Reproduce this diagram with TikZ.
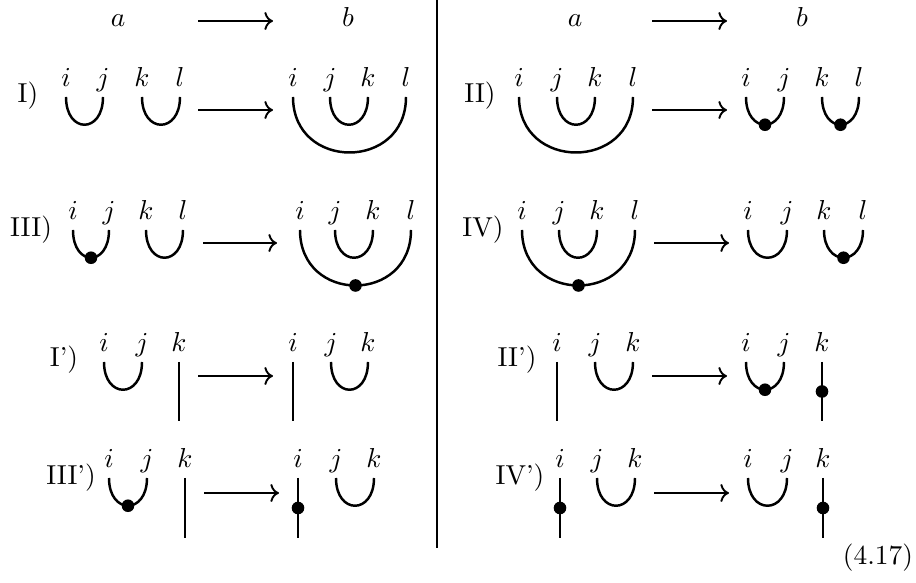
\documentclass[tikz,border=0pt]{standalone}
\usepackage{amsmath}
\usetikzlibrary{arrows.meta}

\begin{document}
\begin{tikzpicture}[x=0.365pt, y=-0.365pt,
    wire/.style={line width=0.9pt},
    cup/.style={to path={.. controls +(0,#1) and +(0,#1) .. (\tikztotarget) \tikztonodes}},
    cup/.default=37,
    dot/.style={circle, fill, inner sep=0pt, minimum size=4.6pt},
    lbl/.style={anchor=base, yshift=4pt, inner sep=0pt},
    tag/.style={anchor=base, inner sep=0pt},
    map/.style={->, line width=0.7pt}]
    \useasboundingbox (0,0) rectangle (916,583);

    % header
    \node[tag] (ha1) at (118,27) {$a$};
    \node[tag] (hb1) at (348,27) {$b$};
    \node[tag] (ha2) at (575,27) {$a$};
    \node[tag] (hb2) at (802,27) {$b$};
    \coordinate (hs1) at (198,21); \coordinate (he1) at (273,21);
    \coordinate (hs2) at (652,21); \coordinate (he2) at (727,21);
    \draw[map] (hs1) -- (he1);
    \draw[map] (hs2) -- (he2);

    % separator
    \coordinate (sep-top) at (437,0); \coordinate (sep-bot) at (437,548);
    \draw[line width=1pt] (sep-top) -- (sep-bot);

    % I)
    \node[tag] (tI) at (28,103) {I)};
    \coordinate (Ia-i) at (66,97);  \node[lbl] (Ia-i-t) at (Ia-i) {$i$};
    \coordinate (Ia-j) at (103,97); \node[lbl] (Ia-j-t) at (Ia-j) {$j$};
    \coordinate (Ia-k) at (142,97); \node[lbl] (Ia-k-t) at (Ia-k) {$k$};
    \coordinate (Ia-l) at (180,97); \node[lbl] (Ia-l-t) at (Ia-l) {$l$};
    \coordinate (Ib-i) at (293,97); \node[lbl] (Ib-i-t) at (Ib-i) {$i$};
    \coordinate (Ib-j) at (330,97); \node[lbl] (Ib-j-t) at (Ib-j) {$j$};
    \coordinate (Ib-k) at (368,97); \node[lbl] (Ib-k-t) at (Ib-k) {$k$};
    \coordinate (Ib-l) at (406,97); \node[lbl] (Ib-l-t) at (Ib-l) {$l$};
    \draw[wire] (Ia-i) to[cup] (Ia-j);
    \draw[wire] (Ia-k) to[cup] (Ia-l);
    \draw[wire] (Ib-j) to[cup] (Ib-k);
    \draw[wire] (Ib-i) to[cup=74] (Ib-l);
    \coordinate (I-s) at (198,110); \coordinate (I-e) at (273,110);
    \draw[map] (I-s) -- (I-e);

    % II)
    \node[tag] (tII) at (480,103) {II)};
    \coordinate (IIa-i) at (519,97); \node[lbl] (IIa-i-t) at (IIa-i) {$i$};
    \coordinate (IIa-j) at (557,97); \node[lbl] (IIa-j-t) at (IIa-j) {$j$};
    \coordinate (IIa-k) at (595,97); \node[lbl] (IIa-k-t) at (IIa-k) {$k$};
    \coordinate (IIa-l) at (633,97); \node[lbl] (IIa-l-t) at (IIa-l) {$l$};
    \coordinate (IIb-i) at (746,97); \node[lbl] (IIb-i-t) at (IIb-i) {$i$};
    \coordinate (IIb-j) at (784,97); \node[lbl] (IIb-j-t) at (IIb-j) {$j$};
    \coordinate (IIb-k) at (822,97); \node[lbl] (IIb-k-t) at (IIb-k) {$k$};
    \coordinate (IIb-l) at (859,97); \node[lbl] (IIb-l-t) at (IIb-l) {$l$};
    \draw[wire] (IIa-i) to[cup=74] (IIa-l);
    \draw[wire] (IIa-j) to[cup] (IIa-k);
    \draw[wire] (IIb-i) to[cup] node[dot] (IIb-d1) {} (IIb-j);
    \draw[wire] (IIb-k) to[cup] node[dot] (IIb-d2) {} (IIb-l);
    \coordinate (II-s) at (652,110); \coordinate (II-e) at (727,110);
    \draw[map] (II-s) -- (II-e);

    % III)
    \node[tag] (tIII) at (31,237) {III)};
    \coordinate (IIIa-i) at (73,230);  \node[lbl] (IIIa-i-t) at (IIIa-i) {$i$};
    \coordinate (IIIa-j) at (109,230); \node[lbl] (IIIa-j-t) at (IIIa-j) {$j$};
    \coordinate (IIIa-k) at (146,230); \node[lbl] (IIIa-k-t) at (IIIa-k) {$k$};
    \coordinate (IIIa-l) at (183,230); \node[lbl] (IIIa-l-t) at (IIIa-l) {$l$};
    \coordinate (IIIb-i) at (300,230); \node[lbl] (IIIb-i-t) at (IIIb-i) {$i$};
    \coordinate (IIIb-j) at (335,230); \node[lbl] (IIIb-j-t) at (IIIb-j) {$j$};
    \coordinate (IIIb-k) at (373,230); \node[lbl] (IIIb-k-t) at (IIIb-k) {$k$};
    \coordinate (IIIb-l) at (411,230); \node[lbl] (IIIb-l-t) at (IIIb-l) {$l$};
    \draw[wire] (IIIa-i) to[cup] node[dot] (IIIa-d) {} (IIIa-j);
    \draw[wire] (IIIa-k) to[cup] (IIIa-l);
    \draw[wire] (IIIb-i) to[cup=74] node[dot] (IIIb-d) {} (IIIb-l);
    \draw[wire] (IIIb-j) to[cup] (IIIb-k);
    \coordinate (III-s) at (203,243); \coordinate (III-e) at (277,243);
    \draw[map] (III-s) -- (III-e);

    % IV)
    \node[tag] (tIV) at (483,237) {IV)};
    \coordinate (IVa-i) at (522,230); \node[lbl] (IVa-i-t) at (IVa-i) {$i$};
    \coordinate (IVa-j) at (559,230); \node[lbl] (IVa-j-t) at (IVa-j) {$j$};
    \coordinate (IVa-k) at (597,230); \node[lbl] (IVa-k-t) at (IVa-k) {$k$};
    \coordinate (IVa-l) at (635,230); \node[lbl] (IVa-l-t) at (IVa-l) {$l$};
    \coordinate (IVb-i) at (748,230); \node[lbl] (IVb-i-t) at (IVb-i) {$i$};
    \coordinate (IVb-j) at (787,230); \node[lbl] (IVb-j-t) at (IVb-j) {$j$};
    \coordinate (IVb-k) at (824,230); \node[lbl] (IVb-k-t) at (IVb-k) {$k$};
    \coordinate (IVb-l) at (863,230); \node[lbl] (IVb-l-t) at (IVb-l) {$l$};
    \draw[wire] (IVa-i) to[cup=74] node[dot] (IVa-d) {} (IVa-l);
    \draw[wire] (IVa-j) to[cup] (IVa-k);
    \draw[wire] (IVb-i) to[cup] (IVb-j);
    \draw[wire] (IVb-k) to[cup] node[dot] (IVb-d) {} (IVb-l);
    \coordinate (IV-s) at (654,243); \coordinate (IV-e) at (729,243);
    \draw[map] (IV-s) -- (IV-e);

    % I')
    \node[tag] (tIp) at (64,367) {I')};
    \coordinate (Ipa-i) at (104,362); \node[lbl] (Ipa-i-t) at (Ipa-i) {$i$};
    \coordinate (Ipa-j) at (142,362); \node[lbl] (Ipa-j-t) at (Ipa-j) {$j$};
    \coordinate (Ipa-k) at (179,362); \node[lbl] (Ipa-k-t) at (Ipa-k) {$k$};
    \coordinate (Ipa-kb) at (179,421);
    \coordinate (Ipb-i) at (293,362); \node[lbl] (Ipb-i-t) at (Ipb-i) {$i$};
    \coordinate (Ipb-ib) at (293,421);
    \coordinate (Ipb-j) at (331,362); \node[lbl] (Ipb-j-t) at (Ipb-j) {$j$};
    \coordinate (Ipb-k) at (368,362); \node[lbl] (Ipb-k-t) at (Ipb-k) {$k$};
    \draw[wire] (Ipa-i) to[cup] (Ipa-j);
    \draw[wire] (Ipa-k) -- (Ipa-kb);
    \draw[wire] (Ipb-i) -- (Ipb-ib);
    \draw[wire] (Ipb-j) to[cup] (Ipb-k);
    \coordinate (Ip-s) at (198,376); \coordinate (Ip-e) at (273,376);
    \draw[map] (Ip-s) -- (Ip-e);

    % II')
    \node[tag] (tIIp) at (517,367) {II')};
    \coordinate (IIpa-i) at (557,362); \node[lbl] (IIpa-i-t) at (IIpa-i) {$i$};
    \coordinate (IIpa-ib) at (557,421);
    \coordinate (IIpa-j) at (595,362); \node[lbl] (IIpa-j-t) at (IIpa-j) {$j$};
    \coordinate (IIpa-k) at (633,362); \node[lbl] (IIpa-k-t) at (IIpa-k) {$k$};
    \coordinate (IIpb-i) at (746,362); \node[lbl] (IIpb-i-t) at (IIpb-i) {$i$};
    \coordinate (IIpb-j) at (784,362); \node[lbl] (IIpb-j-t) at (IIpb-j) {$j$};
    \coordinate (IIpb-k) at (822,362); \node[lbl] (IIpb-k-t) at (IIpb-k) {$k$};
    \coordinate (IIpb-kb) at (822,421);
    \draw[wire] (IIpa-i) -- (IIpa-ib);
    \draw[wire] (IIpa-j) to[cup] (IIpa-k);
    \draw[wire] (IIpb-i) to[cup] node[dot] (IIpb-d1) {} (IIpb-j);
    \draw[wire] (IIpb-k) -- node[dot] (IIpb-d2) {} (IIpb-kb);
    \coordinate (IIp-s) at (652,376); \coordinate (IIp-e) at (727,376);
    \draw[map] (IIp-s) -- (IIp-e);

    % III')
    \node[tag] (tIIIp) at (71,485) {III')};
    \coordinate (IIIpa-i) at (109,478); \node[lbl] (IIIpa-i-t) at (IIIpa-i) {$i$};
    \coordinate (IIIpa-j) at (147,478); \node[lbl] (IIIpa-j-t) at (IIIpa-j) {$j$};
    \coordinate (IIIpa-k) at (185,478); \node[lbl] (IIIpa-k-t) at (IIIpa-k) {$k$};
    \coordinate (IIIpa-kb) at (185,538);
    \coordinate (IIIpb-i) at (298,478); \node[lbl] (IIIpb-i-t) at (IIIpb-i) {$i$};
    \coordinate (IIIpb-ib) at (298,538);
    \coordinate (IIIpb-j) at (336,478); \node[lbl] (IIIpb-j-t) at (IIIpb-j) {$j$};
    \coordinate (IIIpb-k) at (374,478); \node[lbl] (IIIpb-k-t) at (IIIpb-k) {$k$};
    \draw[wire] (IIIpa-i) to[cup] node[dot] (IIIpa-d) {} (IIIpa-j);
    \draw[wire] (IIIpa-k) -- (IIIpa-kb);
    \draw[wire] (IIIpb-i) -- node[dot] (IIIpb-d) {} (IIIpb-ib);
    \draw[wire] (IIIpb-j) to[cup] (IIIpb-k);
    \coordinate (IIIp-s) at (204,493); \coordinate (IIIp-e) at (279,493);
    \draw[map] (IIIp-s) -- (IIIp-e);

    % IV')
    \node[tag] (tIVp) at (520,485) {IV')};
    \coordinate (IVpa-i) at (560,478); \node[lbl] (IVpa-i-t) at (IVpa-i) {$i$};
    \coordinate (IVpa-ib) at (560,538);
    \coordinate (IVpa-j) at (597,478); \node[lbl] (IVpa-j-t) at (IVpa-j) {$j$};
    \coordinate (IVpa-k) at (635,478); \node[lbl] (IVpa-k-t) at (IVpa-k) {$k$};
    \coordinate (IVpb-i) at (748,478); \node[lbl] (IVpb-i-t) at (IVpb-i) {$i$};
    \coordinate (IVpb-j) at (787,478); \node[lbl] (IVpb-j-t) at (IVpb-j) {$j$};
    \coordinate (IVpb-k) at (823,478); \node[lbl] (IVpb-k-t) at (IVpb-k) {$k$};
    \coordinate (IVpb-kb) at (823,538);
    \draw[wire] (IVpa-i) -- node[dot] (IVpa-d) {} (IVpa-ib);
    \draw[wire] (IVpa-j) to[cup] (IVpa-k);
    \draw[wire] (IVpb-i) to[cup] (IVpb-j);
    \draw[wire] (IVpb-k) -- node[dot] (IVpb-d) {} (IVpb-kb);
    \coordinate (IVp-s) at (654,493); \coordinate (IVp-e) at (729,493);
    \draw[map] (IVp-s) -- (IVp-e);

    % equation number
    \node[tag] (eqno) at (878,565) {(4.17)};
\end{tikzpicture}
\end{document}
